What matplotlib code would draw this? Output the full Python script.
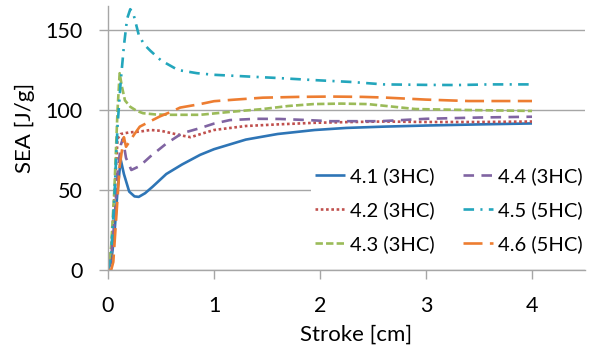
import matplotlib
matplotlib.use("Agg")
import matplotlib.pyplot as plt

plt.rcParams['font.family'] = ['Lato', 'DejaVu Sans']

labels = ["4.1 (3HC)", "4.2 (3HC)", "4.3 (3HC)", "4.4 (3HC)", "4.5 (5HC)", "4.6 (5HC)"]

x41 = [0, 0.03, 0.06, 0.09, 0.12, 0.15, 0.2, 0.25, 0.29, 0.35, 0.42, 0.55, 0.7, 0.87, 1.0, 1.3, 1.6, 1.95, 2.25, 2.6, 3.0, 3.5, 4.0]
y41 = [0, 5, 22, 50, 69, 60, 49, 46, 45.7, 48, 52, 60, 66, 72, 75.5, 81.5, 85, 87.5, 88.8, 89.6, 90.3, 91, 91.6]

x42 = [0, 0.03, 0.06, 0.09, 0.12, 0.2, 0.3, 0.4, 0.5, 0.6, 0.7, 0.78, 0.9, 1.0, 1.3, 1.6, 1.95, 2.3, 2.6, 3.0, 3.5, 4.0]
y42 = [0, 10, 45, 82, 85, 86, 86.5, 87.5, 87, 85.5, 84, 83, 85.5, 87.5, 90, 91, 92, 92.5, 92.8, 92.5, 92.5, 92.8]

x43 = [0, 0.03, 0.06, 0.09, 0.11, 0.13, 0.16, 0.21, 0.27, 0.33, 0.45, 0.6, 0.87, 1.15, 1.46, 1.7, 1.94, 2.2, 2.45, 2.7, 2.9, 3.4, 4.0]
y43 = [0, 15, 50, 100, 123, 115, 106, 102, 99.5, 98, 97.2, 97, 97, 98.8, 100.6, 102.5, 103.7, 104, 103.7, 102, 100.6, 100, 99.4]

x44 = [0, 0.03, 0.06, 0.09, 0.12, 0.14, 0.17, 0.22, 0.3, 0.4, 0.55, 0.7, 0.87, 1.0, 1.15, 1.4, 1.62, 1.85, 2.1, 2.57, 3.0, 3.5, 4.0]
y44 = [0, 8, 30, 60, 78, 82, 70, 62.5, 65, 71, 79, 85.5, 88.7, 91.5, 93.7, 94.5, 94.4, 93.8, 93, 93, 94.5, 95.3, 95.8]

x45 = [0, 0.03, 0.06, 0.09, 0.12, 0.15, 0.18, 0.21, 0.24, 0.29, 0.34, 0.4, 0.5, 0.66, 0.84, 1.0, 1.3, 1.6, 1.94, 2.3, 2.6, 3.0, 3.3, 3.6, 4.0]
y45 = [0, 10, 45, 90, 118, 140, 157, 163, 160, 147, 141, 137, 131, 125, 123, 122, 121, 120, 118.7, 117.5, 116, 115.7, 115.6, 116, 116]

x46 = [0, 0.03, 0.05, 0.08, 0.11, 0.15, 0.17, 0.2, 0.25, 0.3, 0.4, 0.49, 0.6, 0.68, 0.87, 1.0, 1.2, 1.46, 1.8, 2.1, 2.4, 2.6, 3.0, 3.4, 4.0]
y46 = [0, 0, 5, 35, 65, 83, 77, 80, 85, 89.6, 93, 96, 99, 101.5, 103.7, 105.5, 106.5, 107.7, 108.2, 108.4, 108.2, 107.8, 106.5, 105.6, 105.6]

xticks = [0, 1, 2, 3, 4]
yticks = [0, 50, 100, 150]

colors = ["#2E75B6", "#C0504D", "#9BBB59", "#8064A2", "#23A6BC", "#ED7D31"]
dashes = [None, (1, 1), (2.8, 1.2), (4, 2.8), (4, 2.4, 0.8, 2.4), (7.2, 2.8)]

fig = plt.figure(figsize=(5.93, 3.47), dpi=100)
ax = fig.add_axes([108/593, 1-270/347, 4.5*106/593, 264/347])

series = [(x41, y41), (x42, y42), (x43, y43), (x44, y44), (x45, y45), (x46, y46)]
for (xs, ys), c, d, lab in zip(series, colors, dashes, labels):
    if d is None:
        ax.plot(xs, ys, color=c, lw=1.9, label=lab, solid_capstyle='butt')
    else:
        ax.plot(xs, ys, color=c, lw=1.9, label=lab, dashes=d, dash_capstyle='butt')

ax.set_xlim(0, 4.5)
ax.set_ylim(0, 165)
ax.set_xticks(xticks)
ax.set_yticks(yticks)
ax.grid(axis='y', color='#A6A6A6', lw=1)
ax.set_axisbelow(True)
for s in ['top', 'right']:
    ax.spines[s].set_visible(False)
for s in ['left', 'bottom']:
    ax.spines[s].set_color('#A6A6A6')
    ax.spines[s].set_linewidth(1)
ax.tick_params(axis='both', colors='#A6A6A6', labelcolor='black', labelsize=15.5, length=6.5, width=1)
ax.tick_params(axis='x', pad=12)
ax.tick_params(axis='y', pad=12)
ax.set_xlabel("Stroke [cm]", fontsize=16)
ax.set_ylabel("SEA [J/g]", fontsize=16)
ax.xaxis.set_label_coords(0.52, -0.245)
ax.xaxis.label.set_va('center')
ax.yaxis.set_label_coords(-0.174, 0.538)
ax.yaxis.label.set_va('center')

leg = ax.legend(ncol=2, loc='upper left', bbox_to_anchor=(311/593, 1-163/347),
                bbox_transform=fig.transFigure, fontsize=14.5,
                frameon=True, facecolor='white', edgecolor='none', framealpha=1,
                handlelength=1.5, handletextpad=0.25, columnspacing=1.4, labelspacing=0.8,
                borderpad=0.2, borderaxespad=0, fancybox=False)

fig.savefig("out.png", dpi=100)
